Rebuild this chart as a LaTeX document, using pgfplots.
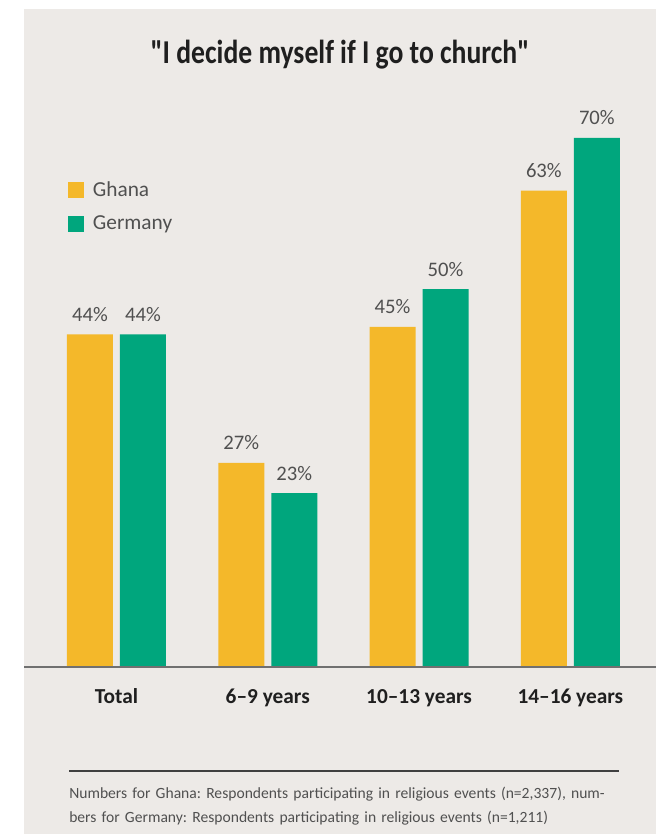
\documentclass[border=0pt]{standalone}
\usepackage{fontspec}
\setmainfont{Carlito}[Ligatures=TeXOff]
\usepackage{graphicx}
\usepackage{pgfplots}
\pgfplotsset{compat=1.18}
\definecolor{bg}{HTML}{EDEAE7}
\definecolor{ghana}{HTML}{F4B82A}
\definecolor{germany}{HTML}{00A67D}
\definecolor{lbl}{HTML}{505050}
\definecolor{axl}{HTML}{707070}
\frenchspacing
\begin{document}
\begin{tikzpicture}[x=0.75pt,y=-0.75pt]
\fill[white] (0,0) rectangle (665,834);
\fill[bg] (24,9) rectangle (656,834);
\coordinate (A) at (24,667);
\node[font=\bfseries\fontsize{25}{28}\selectfont, text=black!88, inner sep=0pt, anchor=base] at (340,64) {\scalebox{0.83}[1]{"I decide myself if I go to church"}};
\draw[black!75, line width=0.8pt] (69,771) -- (619,771);
\node[anchor=base west, inner sep=0pt, text width=440pt, align=left, font=\fontsize{11.7}{18}\selectfont, text=lbl] at (69,798)
 {Numbers for Ghana: Respondents participating in religious events (n=2,337), num-\\bers for Germany: Respondents participating in religious events (n=1,211)};
\begin{axis}[
  at={(A)}, anchor=south west,
  scale only axis, width=474pt, height=453.6pt,
  xmin=-0.611, xmax=3.566, ymin=0, ymax=80,
  axis line style={draw=none},
  xtick=data, xticklabels={Total,6–9 years,10–13 years,14–16 years},
  xtick style={draw=none}, ytick=\empty,
  xticklabel style={font=\bfseries\fontsize{16}{18}\selectfont, text=black!88, anchor=base, inner sep=0pt, yshift=-27pt},
  /pgf/number format/assume math mode=true,
  nodes near coords={\pgfmathprintnumber{\pgfplotspointmeta}\%},
  every node near coord/.append style={font=\fontsize{15.5}{17}\selectfont, text=lbl, anchor=base, inner sep=0pt, yshift=9.75pt},
  legend style={at={(0.0696,0.8069)}, anchor=north west, draw=none, fill=none, inner sep=0pt,
    font=\fontsize{16}{18}\selectfont, text=lbl, row sep=9pt, cells={anchor=west},
    /tikz/every even column/.append style={column sep=0pt}},
  legend image code/.code={\fill[#1] (0pt,-6pt) rectangle (12pt,6pt);},
  clip=false,
]
\addplot[ybar, bar width=34.5pt, bar shift=-19.875pt, fill=ghana, draw=none,
  every node near coord/.append style={xshift=-19.875pt}] coordinates {(0,44) (1,27) (2,45) (3,63)};
\addlegendentry{\hspace{4.5pt}Ghana}
\addplot[ybar, bar width=34.5pt, bar shift=19.875pt, fill=germany, draw=none,
  every node near coord/.append style={xshift=19.875pt}] coordinates {(0,44) (1,23) (2,50) (3,70)};
\addlegendentry{\hspace{4.5pt}Germany}
\draw[axl, line width=1.1pt] (rel axis cs:0,0) -- (rel axis cs:1,0);
\end{axis}
\end{tikzpicture}
\end{document}
